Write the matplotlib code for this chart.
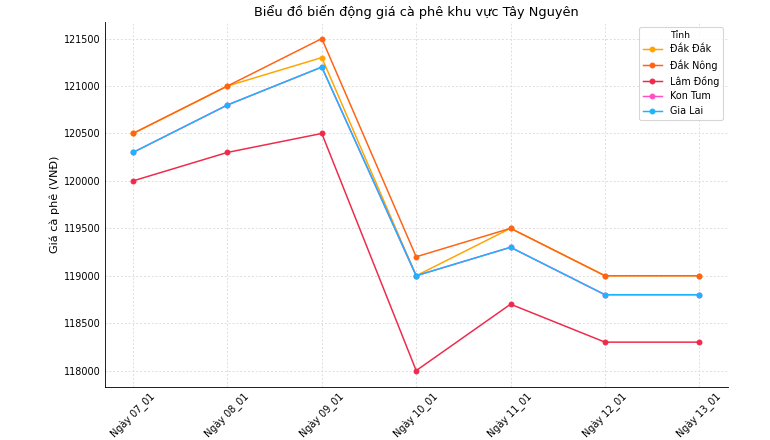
import matplotlib
matplotlib.use("Agg")
import matplotlib.pyplot as plt

# Du lieu gia ca phe (VND/kg)
ngay = ["Ngày 07_01", "Ngày 08_01", "Ngày 09_01", "Ngày 10_01",
        "Ngày 11_01", "Ngày 12_01", "Ngày 13_01"]
dak_dak = [120500, 121000, 121300, 119000, 119500, 119000, 119000]
dak_nong = [120500, 121000, 121500, 119200, 119500, 119000, 119000]
lam_dong = [120000, 120300, 120500, 118000, 118700, 118300, 118300]
kon_tum = [120300, 120800, 121200, 119000, 119300, 118800, 118800]
gia_lai = [120300, 120800, 121200, 119000, 119300, 118800, 118800]

tinh = ["Đắk Đắk", "Đắk Nông", "Lâm Đồng", "Kon Tum", "Gia Lai"]
gia = [dak_dak, dak_nong, lam_dong, kon_tum, gia_lai]
mau = ["#FFA500", "#FF6314", "#EE2A4C", "#FF4FC6", "#1CB4FF"]

fig, ax = plt.subplots(figsize=(10, 440 / 77), dpi=77)
fig.subplots_adjust(left=0.136, right=0.945, top=0.95, bottom=0.12)

for ten, y, c in zip(tinh, gia, mau):
    ax.plot(ngay, y, marker="o", markersize=4.5, linewidth=1.4, color=c, label=ten)

ax.set_title("Biểu đồ biến động giá cà phê khu vực Tây Nguyên", fontsize=12)
ax.set_ylabel("Giá cà phê (VNĐ)", fontsize=10.5)
ax.grid(True, linestyle=(0, (2, 2)), color="#dddddd", linewidth=0.9)
ax.spines["top"].set_visible(False)
ax.spines["right"].set_visible(False)
ax.tick_params(length=0, labelsize=9)
plt.setp(ax.get_xticklabels(), rotation=45)
ax.legend(title="Tỉnh", loc="upper right", fontsize=9, title_fontsize=8.5)

fig.savefig("out.png", dpi=77)
